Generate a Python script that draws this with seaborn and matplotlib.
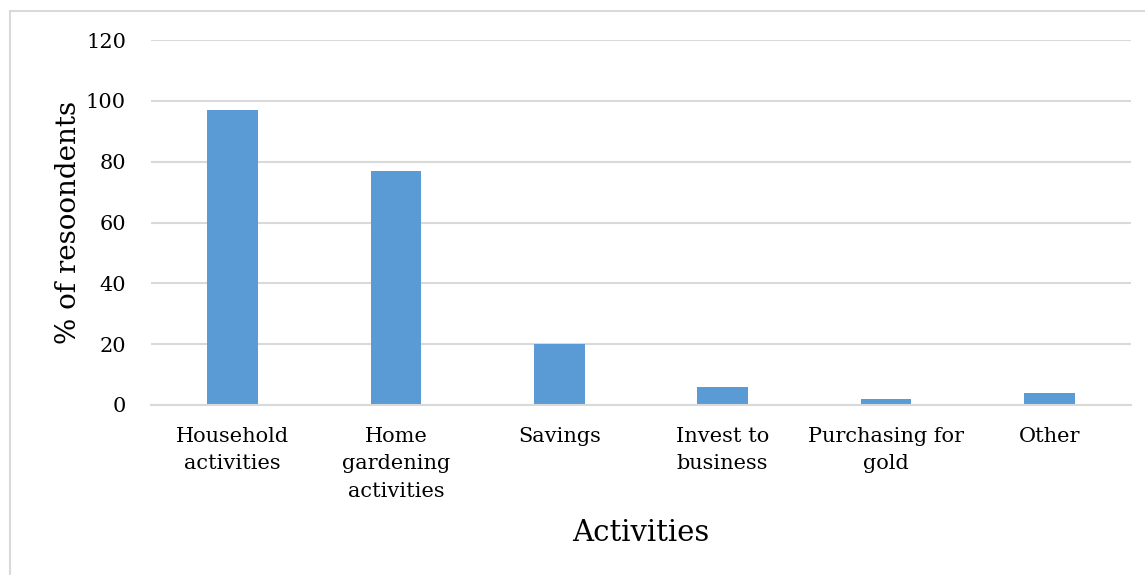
import matplotlib
matplotlib.use("Agg")
import matplotlib.pyplot as plt
from matplotlib.lines import Line2D
import seaborn as sns
import pandas as pd

categories = ["Household\nactivities", "Home\ngardening\nactivities", "Savings",
              "Invest to\nbusiness", "Purchasing for\ngold", "Other"]
values = [97, 77, 20, 6, 2, 4]
yticks = [0, 20, 40, 60, 80, 100, 120]

sns.set_theme(style="white")
plt.rcParams["font.family"] = ["DejaVu Serif"]
plt.rcParams["text.color"] = "black"
plt.rcParams["xtick.color"] = "black"
plt.rcParams["ytick.color"] = "black"
plt.rcParams["axes.labelcolor"] = "black"

df = pd.DataFrame({"activity": categories, "pct": values})

fig = plt.figure(figsize=(11.45, 5.75), dpi=100)
ax = fig.add_axes([151 / 1145, 1 - 405 / 575, (1131 - 151) / 1145, (405 - 40) / 575])

sns.barplot(data=df, x="activity", y="pct", color="#5B9BD5", saturation=1,
            width=0.31, linewidth=0, ax=ax, zorder=3)

ax.set_ylim(0, 120)
ax.set_yticks(yticks)
ax.set_yticklabels([str(t) for t in yticks], fontsize=15)
ax.set_xlim(-0.5, len(categories) - 0.5)
ax.tick_params(axis="x", length=0, pad=16)
for lbl in ax.get_xticklabels():
    lbl.set_fontsize(15)
    lbl.set_linespacing(1.55)
ax.tick_params(axis="y", length=0, pad=18)
ax.yaxis.grid(True, color="#D9D9D9", linewidth=1.5, zorder=0)
ax.set_axisbelow(True)
for s in ["top", "right", "left"]:
    ax.spines[s].set_visible(False)
ax.spines["bottom"].set_color("#D9D9D9")
ax.spines["bottom"].set_linewidth(1.5)
ax.spines["bottom"].set_zorder(4)

ax.set_xlabel("Activities", fontsize=21, labelpad=13)
ax.set_ylabel("% of resoondents", fontsize=20, labelpad=3)

# thin frame around the chart area (top and left edges)
fig.add_artist(Line2D([10 / 1145, 10 / 1145], [0, 1 - 11 / 575],
                      transform=fig.transFigure, color="#D9D9D9", linewidth=1.5))
fig.add_artist(Line2D([10 / 1145, 1], [1 - 11 / 575, 1 - 11 / 575],
                      transform=fig.transFigure, color="#D9D9D9", linewidth=1.5))

fig.savefig("out.png", dpi=100, facecolor="white")
